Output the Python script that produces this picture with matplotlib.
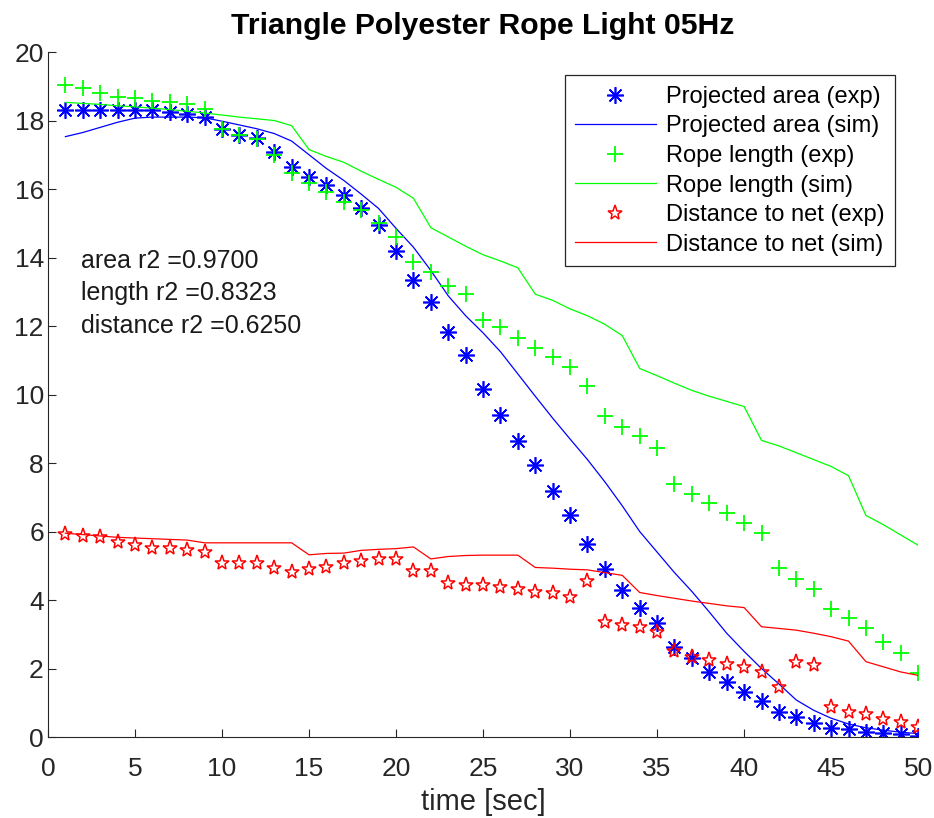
import matplotlib
matplotlib.use("Agg")
import matplotlib.pyplot as plt
import numpy as np

plt.rcParams['font.family'] = ['Liberation Sans', 'DejaVu Sans']

t = np.arange(1, 51)

area_exp = [18.3, 18.3, 18.3, 18.3, 18.3, 18.3, 18.25, 18.2, 18.1, 17.74,
            17.58, 17.5, 17.09, 16.65, 16.36, 16.12, 15.82, 15.44, 14.95, 14.2,
            13.34, 12.71, 11.83, 11.15, 10.15, 9.4, 8.64, 7.94, 7.18, 6.48,
            5.65, 4.9, 4.3, 3.78, 3.34, 2.64, 2.3, 1.91, 1.62, 1.32,
            1.05, 0.74, 0.57, 0.4, 0.25, 0.22, 0.16, 0.11, 0.09, 0.03]
area_sim = [17.53, 17.65, 17.8, 17.95, 18.07, 18.1, 18.1, 18.1, 18.08, 17.98,
            17.87, 17.76, 17.62, 17.4, 17.0, 16.6, 16.25, 15.85, 15.43, 14.85,
            14.3, 13.62, 12.88, 12.3, 11.8, 11.25, 10.6, 9.95, 9.31, 8.7,
            8.1, 7.45, 6.75, 6.0, 5.4, 4.8, 4.25, 3.65, 3.03, 2.5,
            2.0, 1.55, 1.08, 0.78, 0.55, 0.38, 0.27, 0.2, 0.14, 0.1]
length_exp = [19.05, 18.94, 18.8, 18.7, 18.65, 18.58, 18.53, 18.48, 18.35, 17.74,
              17.58, 17.45, 16.99, 16.46, 16.17, 15.92, 15.63, 15.39, 15.0, 14.6,
              13.87, 13.57, 13.17, 12.93, 12.18, 11.96, 11.64, 11.35, 11.09, 10.79,
              10.25, 9.37, 9.05, 8.8, 8.45, 7.39, 7.09, 6.84, 6.53, 6.24,
              5.95, 4.93, 4.6, 4.31, 3.73, 3.47, 3.17, 2.78, 2.44, 1.88]
length_sim = [18.53, 18.5, 18.47, 18.43, 18.4, 18.36, 18.32, 18.27, 18.22, 18.16,
              18.1, 18.05, 18.0, 17.85, 17.15, 16.95, 16.78, 16.52, 16.28, 16.05,
              15.73, 14.87, 14.6, 14.33, 14.08, 13.9, 13.7, 12.93, 12.75, 12.5,
              12.3, 12.05, 11.72, 10.76, 10.55, 10.33, 10.12, 9.95, 9.8, 9.65,
              8.66, 8.5, 8.3, 8.1, 7.9, 7.63, 6.47, 6.2, 5.9, 5.6]
dist_exp = [5.92, 5.87, 5.83, 5.7, 5.61, 5.53, 5.51, 5.46, 5.41, 5.07,
            5.07, 5.07, 4.93, 4.83, 4.9, 4.97, 5.09, 5.14, 5.19, 5.19,
            4.86, 4.86, 4.49, 4.44, 4.44, 4.37, 4.31, 4.24, 4.21, 4.08,
            4.56, 3.37, 3.27, 3.22, 3.06, 2.52, 2.34, 2.25, 2.13, 2.05,
            1.91, 1.45, 2.2, 2.1, 0.88, 0.74, 0.67, 0.52, 0.45, 0.3]
dist_sim = [5.95, 5.91, 5.87, 5.83, 5.81, 5.79, 5.77, 5.75, 5.67, 5.67,
            5.67, 5.67, 5.67, 5.67, 5.32, 5.36, 5.37, 5.45, 5.48, 5.5,
            5.55, 5.2, 5.27, 5.3, 5.31, 5.31, 5.31, 4.95, 4.93, 4.9,
            4.88, 4.8, 4.72, 4.22, 4.13, 4.05, 3.97, 3.9, 3.83, 3.78,
            3.22, 3.17, 3.12, 3.03, 2.93, 2.8, 2.2, 2.05, 1.9, 1.8]

r2_labels = ["area r2 =0.9700", "length r2 =0.8323", "distance r2 =0.6250"]

fig = plt.figure(figsize=(9.34, 8.18), dpi=100)
ax = fig.add_axes([0.0514, 0.099, 0.9316, 0.8374])

star8 = (8, 2, 0)  # MATLAB-style asterisk
ax.plot(t, area_exp, linestyle='none', marker=star8, color='b', markersize=12,
        markeredgewidth=1.2, label='Projected area (exp)')
ax.plot(t, area_sim, color='b', linewidth=0.9, label='Projected area (sim)')
ax.plot(t, length_exp, linestyle='none', marker='+', color=(0, 1, 0), markersize=12,
        markeredgewidth=1.3, label='Rope length (exp)')
ax.plot(t, length_sim, color=(0, 1, 0), linewidth=0.9, label='Rope length (sim)')
ax.plot(t, dist_exp, linestyle='none', marker='*', color='r', markersize=11,
        markerfacecolor='none', markeredgewidth=1.1, label='Distance to net (exp)')
ax.plot(t, dist_sim, color='r', linewidth=0.9, label='Distance to net (sim)')

for i, s in enumerate(r2_labels):
    ax.text(1.9, 13.9 - 0.95 * i, s, fontsize=18, va='center', ha='left', color='0.1')

ax.set_xlim(0, 50)
ax.set_ylim(0, 20)
ax.set_xticks(np.arange(0, 51, 5))
ax.set_yticks(np.arange(0, 21, 2))
ax.spines['top'].set_visible(False)
ax.spines['right'].set_visible(False)
for sp in ['left', 'bottom']:
    ax.spines[sp].set_color('0.15')
ax.tick_params(direction='in', length=6, labelsize=19, colors='0.15')
ax.tick_params(axis='x', pad=14.5)
ax.tick_params(axis='y', pad=3)
ax.set_xlabel('time [sec]', fontsize=21, color='0.15', labelpad=5)
ax.set_title('Triangle Polyester Rope Light 05Hz', fontsize=21.7, fontweight='bold', pad=13)

leg = ax.legend(loc='upper right', bbox_to_anchor=(0.974, 0.966), borderaxespad=0,
                prop={'size': 17}, numpoints=1, handlelength=3.4, handletextpad=0.45,
                labelspacing=0.32, borderpad=0.45,
                fancybox=False, edgecolor='0.15', framealpha=1)
leg.get_frame().set_linewidth(0.9)

fig.savefig('out.png', dpi=100)
